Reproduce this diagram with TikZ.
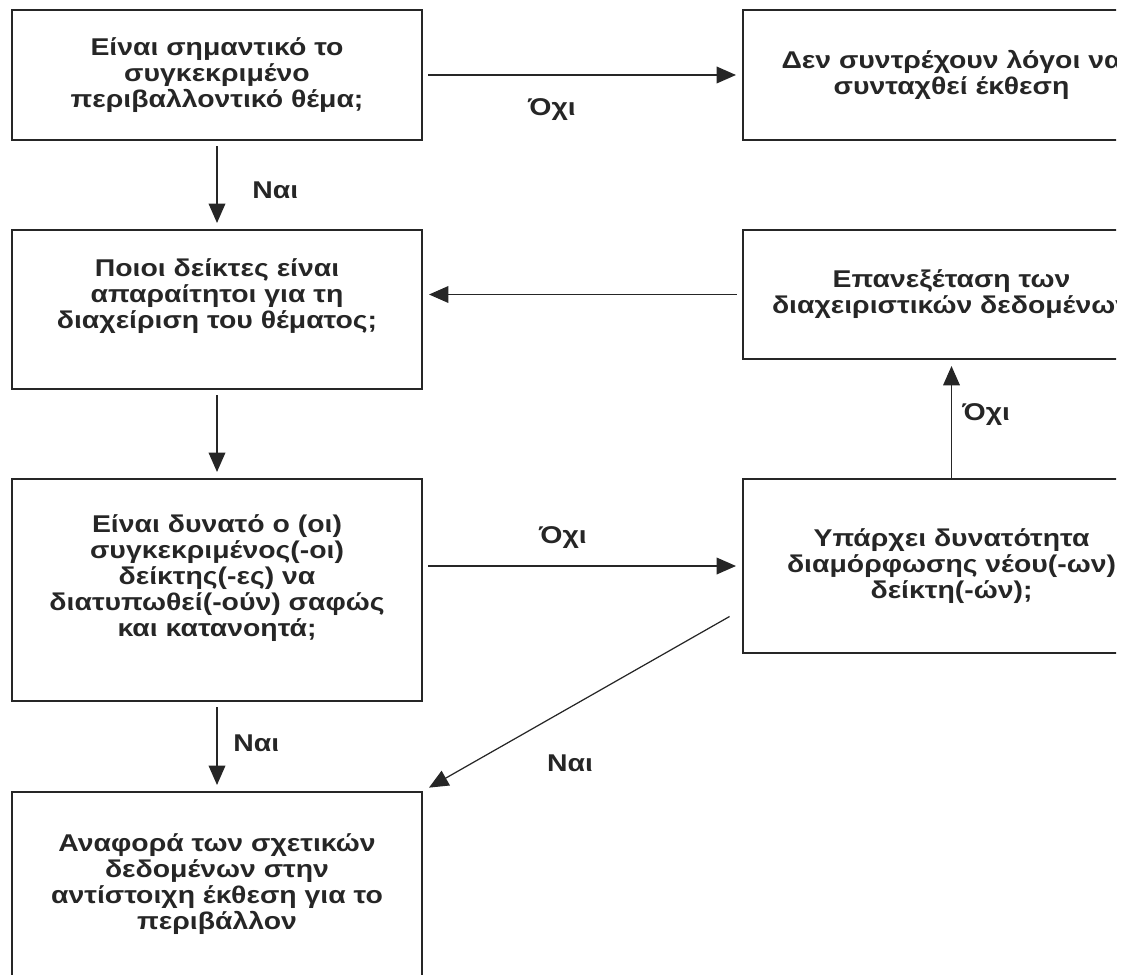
\documentclass[tikz,border=0pt]{standalone}
\usepackage{fontspec}
\setmainfont{Liberation Sans}[FakeStretch=1.17]
\usetikzlibrary{arrows.meta}

\begin{document}
\begin{tikzpicture}[
    box/.style={draw=black!85, line width=1pt, align=center, inner sep=0pt,
      font=\fontsize{13.8}{14.8}\selectfont\bfseries, text=black!85},
    lbl/.style={font=\fontsize{13.8}{14.8}\selectfont\bfseries, text=black!85, inner sep=0pt},
    arr/.style={draw=black!85, line width=0.7pt,
      -{Triangle[length=11pt,width=9.5pt]}, shorten <=3pt, shorten >=3.5pt}]
    \useasboundingbox (0,0) rectangle (22.44,-19.52);
    \clip (0,0) rectangle (22.32,-19.49);
    % left column
    \node [box, minimum width=8.2cm, minimum height=2.6cm] (b1) at (4.34,-1.5)
      {Είναι σημαντικό το\\ συγκεκριμένο\\ περιβαλλοντικό θέμα;};
    \node [box, minimum width=8.2cm, minimum height=3.18cm] (b3) at (4.34,-6.19)
      {Ποιοι δείκτες είναι\\ απαραίτητοι για τη\\ διαχείριση του θέματος;\\[3pt]\mbox{}};
    \node [box, minimum width=8.2cm, minimum height=4.44cm] (b5) at (4.34,-11.8)
      {Είναι δυνατό ο (οι)\\ συγκεκριμένος(-οι)\\ δείκτης(-ες) να\\ διατυπωθεί(-ούν) σαφώς\\ και κατανοητά;\\[2pt]\mbox{}};
    \node [box, minimum width=8.2cm, minimum height=3.68cm] (b7) at (4.34,-17.68)
      {Αναφορά των σχετικών\\ δεδομένων στην\\ αντίστοιχη έκθεση για το\\ περιβάλλον};
    % right column
    \node [box, minimum width=8.34cm, minimum height=2.6cm] (b2) at (19.03,-1.5)
      {Δεν συντρέχουν λόγοι να\\ συνταχθεί έκθεση};
    \node [box, minimum width=8.34cm, minimum height=2.58cm] (b4) at (19.03,-5.89)
      {Επανεξέταση των\\ διαχειριστικών δεδομένων};
    \node [box, minimum width=8.34cm, minimum height=3.48cm] (b6) at (19.03,-11.32)
      {Υπάρχει δυνατότητα\\ διαμόρφωσης νέου(-ων)\\ δείκτη(-ών);};
    % connectors
    \draw [arr] (b1) -- (b2);
    \draw [arr] (b1) -- (b3);
    \draw [arr] (b4) -- (b4 -| b3.east);
    \draw [arr] (b3) -- (b5);
    \draw [arr] (b6 -| b5.east) -- (b6);
    \draw [arr, shorten <=0pt] (b6) -- (b4);
    \draw [arr, shorten >=4pt] ([shift={(-0.16,0.8)}]b6.south west) -- (b7.north east);
    \draw [arr] (b5) -- (b7);
    % labels
    \node [lbl] (no1) at (11.04,-2.2) {Όχι};
    \node [lbl, anchor=west] (yes1) at (5.04,-3.8) {Ναι};
    \node [lbl] (no2) at (11.26,-10.76) {Όχι};
    \node [lbl, anchor=west] (no3) at (19.24,-8.3) {Όχι};
    \node [lbl, anchor=west] (yes2) at (4.66,-14.86) {Ναι};
    \node [lbl] (yes3) at (11.4,-15.26) {Ναι};
\end{tikzpicture}
\end{document}
